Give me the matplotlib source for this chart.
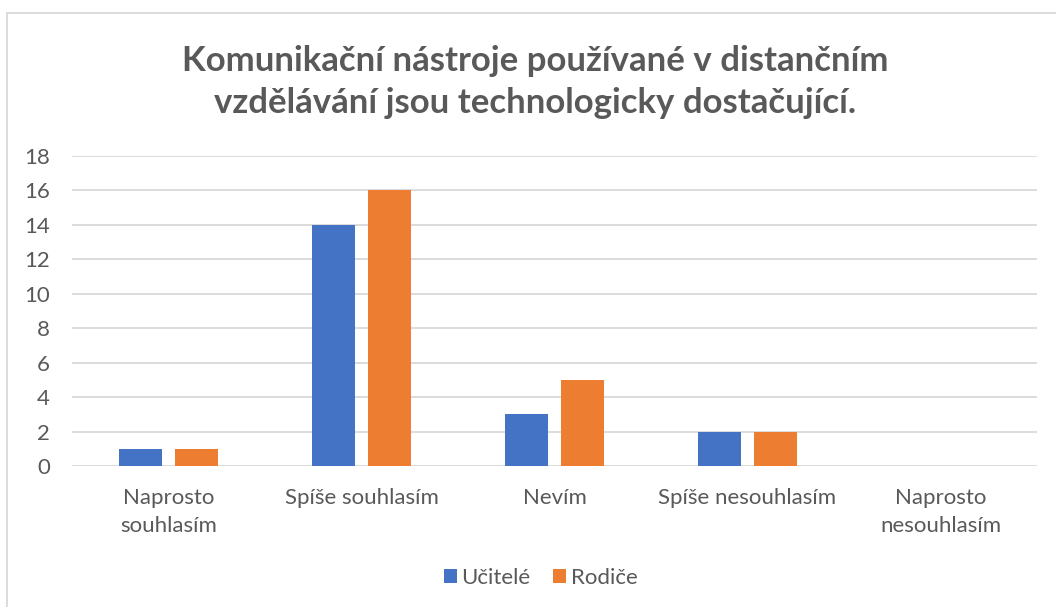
import numpy as np
import matplotlib.pyplot as plt
from matplotlib.patches import Rectangle

categories = ['Naprosto\nsouhlasím', 'Spíše souhlasím', 'Nevím', 'Spíše nesouhlasím', 'Naprosto\nnesouhlasím']
ucitele = [1, 14, 3, 2, 0]
rodice = [1, 16, 5, 2, 0]
yticks = list(range(0, 19, 2))
title = 'Komunikační nástroje používané v distančním\nvzdělávání jsou technologicky dostačující.'

plt.rcParams['font.family'] = ['Lato', 'DejaVu Sans']
text_color = '#595959'

fig = plt.figure(figsize=(10.56, 6.07), dpi=100)
# plot area in pixels: x 72..1037, y 156..466
ax = fig.add_axes([72 / 1056, 1 - 466 / 607, 965 / 1056, 310 / 607])

x = np.arange(len(categories))
w = 0.222
off = 0.143
ax.bar(x - off, ucitele, w, color='#4472C4', label='Učitelé', zorder=3)
ax.bar(x + off, rodice, w, color='#ED7D31', label='Rodiče', zorder=3)

ax.set_xlim(-0.5, len(categories) - 0.5)
ax.set_ylim(0, 18)
ax.set_yticks(yticks)
ax.grid(axis='y', color='#D9D9D9', linewidth=1.3, zorder=0)
for s in ax.spines.values():
    s.set_visible(False)
ax.tick_params(axis='both', length=0, labelsize=16, labelcolor=text_color)
ax.tick_params(axis='y', pad=16)
ax.tick_params(axis='x', pad=16)
ax.set_xticks(x)
ax.set_xticklabels(categories, linespacing=1.5)

fig.text(0.507, 1 - 82 / 607, title, ha='center', va='center', fontsize=25,
         fontweight='bold', color=text_color, linespacing=1.4)

fig.legend(loc='center', bbox_to_anchor=(0.512, 1 - 578 / 607), ncol=2, frameon=False,
           fontsize=16, labelcolor=text_color, handlelength=0.6, handleheight=0.6,
           handletextpad=0.2, columnspacing=1.0)

fig.patches.append(Rectangle((7 / 1056, -0.05), 1.1, 1 - 13 / 607 + 0.05, transform=fig.transFigure,
                             fill=False, edgecolor='#D9D9D9', linewidth=1.3))

fig.savefig('out.png', dpi=100)
